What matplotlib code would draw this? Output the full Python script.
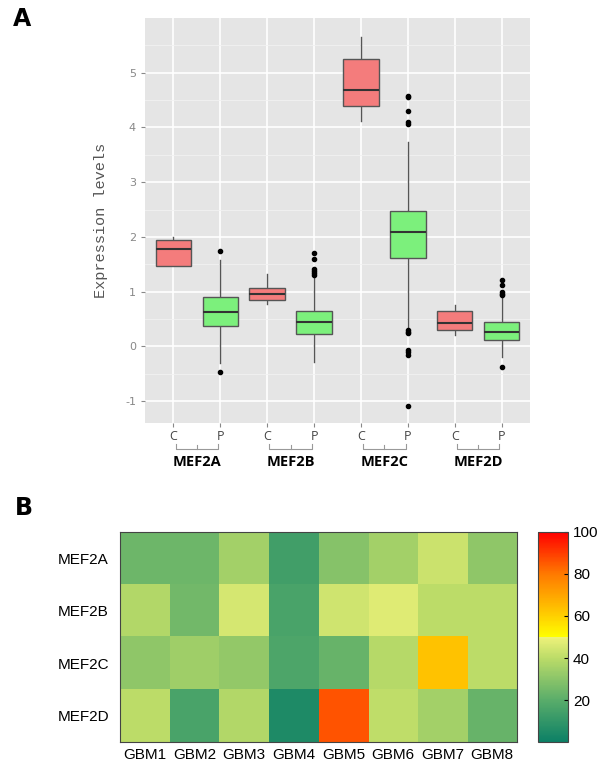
import numpy as np
import matplotlib
matplotlib.use("Agg")
from matplotlib import pyplot as plt
from matplotlib.colors import LinearSegmentedColormap
import matplotlib.transforms as mtransforms

# ---- Panel A data ----
genes = ['MEF2A', 'MEF2B', 'MEF2C', 'MEF2D']
groups = ['C', 'P']
# whislo, q1, med, q3, whishi per box, order: C, P for each gene
whislo = [1.47, -0.30, 0.78, -0.29, 4.11, 0.35, 0.21, -0.20]
q1 = [1.47, 0.38, 0.84, 0.23, 4.40, 1.61, 0.30, 0.12]
med = [1.78, 0.63, 0.95, 0.45, 4.68, 2.09, 0.43, 0.27]
q3 = [1.95, 0.91, 1.07, 0.65, 5.25, 2.47, 0.64, 0.44]
whishi = [2.00, 1.58, 1.33, 1.30, 5.65, 3.73, 0.75, 0.90]
fliers = [
    [],
    [1.74, -0.46],
    [],
    [1.71, 1.60, 1.42, 1.38, 1.35, 1.31],
    [],
    [4.57, 4.55, 4.30, 4.10, 4.06, 0.30, 0.27, 0.25, -0.06, -0.10, -0.15, -1.09],
    [],
    [1.21, 1.13, 0.99, 0.96, 0.93, -0.37],
]

# ---- Panel B data (heatmap) ----
samples = ['GBM1', 'GBM2', 'GBM3', 'GBM4', 'GBM5', 'GBM6', 'GBM7', 'GBM8']
heat = np.array([
    [24, 24, 35, 14, 29, 35, 43, 31],
    [38, 25, 45, 16, 44, 47, 40, 40],
    [31, 34, 32, 17, 23, 39, 63, 40],
    [40, 16, 38, 5, 86, 41, 35, 23],
])

fig = plt.figure(figsize=(6, 7.69), dpi=100)

# ------------------- Box plot -------------------
ax = fig.add_axes([0.2417, 0.4499, 0.6416, 0.5267])
ax.set_facecolor('#e5e5e5')
stats = []
for i in range(len(med)):
    stats.append(dict(whislo=whislo[i], q1=q1[i], med=med[i], q3=q3[i],
                      whishi=whishi[i], fliers=fliers[i]))
pos = np.arange(1, len(med) + 1)
bp = ax.bxp(stats, positions=pos, widths=0.75, patch_artist=True,
            showcaps=False,
            boxprops=dict(edgecolor='#555555', linewidth=1.0),
            medianprops=dict(color='#333333', linewidth=1.5),
            whiskerprops=dict(color='#555555', linewidth=1.0),
            flierprops=dict(marker='o', markerfacecolor='black',
                            markeredgecolor='black', markersize=3))
for i, b in enumerate(bp['boxes']):
    b.set_facecolor('#f47c7c' if i % 2 == 0 else '#7cf07c')
    b.set_zorder(3)
for m in bp['medians']:
    m.set_zorder(4)

ax.set_xlim(0.4, 8.6)
ax.set_ylim(-1.4, 6.0)
ax.set_yticks([-1, 0, 1, 2, 3, 4, 5])
ax.set_yticks(np.arange(-0.5, 6.0, 1.0), minor=True)
ax.set_yticklabels(['-1', '0', '1', '2', '3', '4', '5'], color='#888888',
                   fontsize=8)
ax.set_xticks(pos)
ax.set_xticklabels(groups * 4, color='#444444', fontsize=9,
                   family='Open Sans')
ax.grid(which='major', color='white', linewidth=1.2)
ax.grid(which='minor', axis='y', color='#f2f2f2', linewidth=0.6)
ax.set_axisbelow(True)
for s in ax.spines.values():
    s.set_visible(False)
ax.tick_params(axis='both', which='major', color='#888888', length=3)
ax.tick_params(axis='x', pad=2)
ax.tick_params(axis='y', which='minor', length=0)
ax.set_ylabel('Expression levels', family='Liberation Mono', fontsize=11,
              color='#555555', labelpad=12)

# gene brackets under the tick labels
trans = mtransforms.blended_transform_factory(ax.transData, ax.transAxes)
for k, g in enumerate(genes):
    x0 = pos[2 * k] + 0.05
    x1 = pos[2 * k + 1] - 0.05
    xm = (x0 + x1) / 2
    ax.plot([x0, x0, x1, x1], [-0.052, -0.063, -0.063, -0.052],
            transform=trans, color='#999999', linewidth=0.8, clip_on=False)
    ax.plot([xm, xm], [-0.063, -0.055], transform=trans, color='#999999',
            linewidth=0.8, clip_on=False)
    ax.text(xm, -0.097, g, transform=trans, ha='center', va='center',
            fontsize=10.5, fontweight='bold', family='Open Sans')

fig.text(0.022, 0.975, 'A', fontsize=17, fontweight='bold', va='center')

# ------------------- Heatmap -------------------
cmap = LinearSegmentedColormap.from_list('gyr', [
    (0.00, '#0c8066'),
    (0.20, '#5aad6a'),
    (0.40, '#bcdc68'),
    (0.499, '#eef27a'),
    (0.50, '#ffff00'),
    (0.60, '#ffd000'),
    (0.80, '#ff7a00'),
    (1.00, '#ff0000'),
])
ax2 = fig.add_axes([0.2, 0.0351, 0.6617, 0.2731])
im = ax2.imshow(heat, cmap=cmap, vmin=0, vmax=100, aspect='auto')
ax2.set_xticks(np.arange(len(samples)))
ax2.set_xticklabels(samples, fontsize=11, family='Liberation Sans')
ax2.set_yticks(np.arange(len(genes)))
ax2.set_yticklabels(genes, fontsize=11, family='Liberation Sans')
ax2.tick_params(length=0, pad=8)
ax2.tick_params(axis='x', pad=4)
for s in ax2.spines.values():
    s.set_color('#444444')
    s.set_linewidth(0.8)

cax = fig.add_axes([0.8967, 0.0351, 0.05, 0.2731])
cb = fig.colorbar(im, cax=cax, ticks=[20, 40, 60, 80, 100])
cb.ax.tick_params(labelsize=11, length=3, direction='in')
for t in cb.ax.get_yticklabels():
    t.set_family('Liberation Sans')
cb.outline.set_edgecolor('#444444')
cb.outline.set_linewidth(0.8)

fig.text(0.025, 0.34, 'B', fontsize=17, fontweight='bold', va='center')

fig.savefig('out.png', dpi=100)
